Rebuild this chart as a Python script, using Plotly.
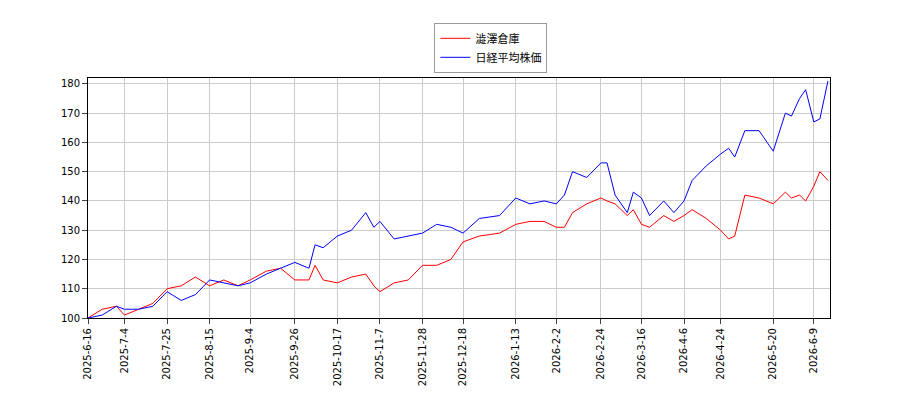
import plotly.graph_objects as go

dates = ["2025-06-16","2025-06-23","2025-06-30","2025-07-04","2025-07-11","2025-07-18","2025-07-25","2025-08-01","2025-08-08","2025-08-15","2025-08-22","2025-08-29","2025-09-04","2025-09-12","2025-09-19","2025-09-26","2025-10-03","2025-10-06","2025-10-10","2025-10-17","2025-10-24","2025-10-31","2025-11-04","2025-11-07","2025-11-14","2025-11-21","2025-11-28","2025-12-05","2025-12-12","2025-12-18","2025-12-26","2026-01-05","2026-01-13","2026-01-20","2026-01-27","2026-02-02","2026-02-06","2026-02-10","2026-02-17","2026-02-24","2026-02-27","2026-03-03","2026-03-09","2026-03-12","2026-03-16","2026-03-20","2026-03-27","2026-04-01","2026-04-06","2026-04-10","2026-04-17","2026-04-24","2026-04-28","2026-05-01","2026-05-06","2026-05-13","2026-05-20","2026-05-26","2026-05-29","2026-06-02","2026-06-05","2026-06-09","2026-06-12","2026-06-16"]
nikkei = [100,101,104,103,103,104,109,106,108,113,112,111,112,115,117,119,117,125,124,128,130,136,131,133,127,128,129,132,131,129,134,135,141,139,140,139,142,150,148,153,153,142,136,143,141,135,140,136,140,147,152,156,158,155,164,164,157,170,169,175,178,167,168,181]
shibusawa = [100,103,104,101,103,105,110,111,114,111,113,111,113,116,117,113,113,118,113,112,114,115,111,109,112,113,118,118,120,126,128,129,132,133,133,131,131,136,139,141,140,139,135,137,132,131,135,133,135,137,134,130,127,128,142,141,139,143,141,142,140,145,150,147]
tick_dates = ["2025-06-16","2025-07-04","2025-07-25","2025-08-15","2025-09-04","2025-09-26","2025-10-17","2025-11-07","2025-11-28","2025-12-18","2026-01-13","2026-02-02","2026-02-24","2026-03-16","2026-04-06","2026-04-24","2026-05-20","2026-06-09"]
tick_text = ["2025-6-16","2025-7-4","2025-7-25","2025-8-15","2025-9-4","2025-9-26","2025-10-17","2025-11-7","2025-11-28","2025-12-18","2026-1-13","2026-2-2","2026-2-24","2026-3-16","2026-4-6","2026-4-24","2026-5-20","2026-6-9"]

fig = go.Figure()
fig.add_trace(go.Scatter(x=dates, y=shibusawa, mode="lines", name="澁澤倉庫", line=dict(color="red", width=1)))
fig.add_trace(go.Scatter(x=dates, y=nikkei, mode="lines", name="日経平均株価", line=dict(color="blue", width=1)))
fig.update_layout(
    width=900, height=400, plot_bgcolor="white", paper_bgcolor="white",
    margin=dict(l=80, r=78, t=70, b=90),
    font=dict(family="DejaVu Sans, Noto Sans CJK JP", size=10, color="black"),
    legend=dict(x=0.543, y=1.23, xanchor="center", yanchor="top", bordercolor="#999", borderwidth=1, font=dict(size=11)),
)
fig.update_xaxes(range=["2025-06-16", "2026-06-17"], tickvals=tick_dates, ticktext=tick_text, tickangle=-90, automargin=False,
                 showgrid=True, gridcolor="#ccc", showline=True, linecolor="black", mirror=True, ticks="outside")
fig.update_yaxes(range=[100, 182], dtick=10, showgrid=True, gridcolor="#ccc", showline=True, linecolor="black", automargin=False,
                 mirror=True, ticks="outside")
fig.write_html("out.html")
